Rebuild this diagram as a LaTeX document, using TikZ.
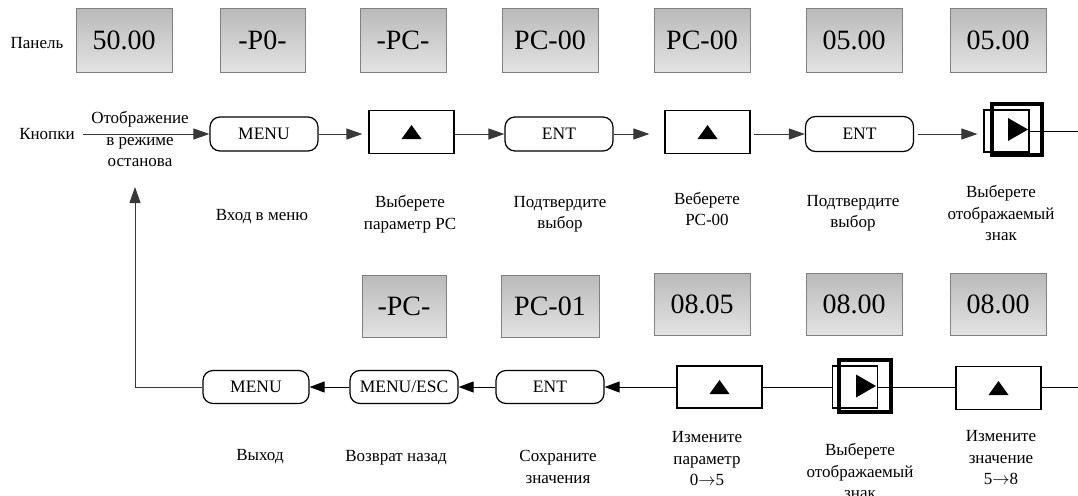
\documentclass[tikz,border=0pt]{standalone}
\usepackage{fontspec}
\setmainfont{Liberation Serif}
\usetikzlibrary{arrows.meta}
\tikzset{
  panel/.style={draw=black!50, line width=1pt, top color=black!27, bottom color=black!11,
    minimum width=96pt, minimum height=63pt, inner sep=0pt,
    font=\fontsize{28}{30}\selectfont},
  key/.style={draw, rounded corners=10pt, line width=1.2pt, minimum width=108pt,
    minimum height=34pt, inner sep=0pt, font=\fontsize{17.5}{20}\selectfont},
  upkey/.style={draw, line width=1.2pt, minimum width=85pt, minimum height=43pt, inner sep=0pt,
    path picture={\fill ([shift={(-10pt,-7pt)}]path picture bounding box.center)
      -- ([shift={(10pt,-7pt)}]path picture bounding box.center)
      -- ([shift={(0pt,7pt)}]path picture bounding box.center) -- cycle;}},
  shiftframe/.style={draw, line width=1.1pt, minimum width=45pt, minimum height=42pt, inner sep=0pt},
  shiftcursor/.style={draw, line width=3.6pt, minimum width=50pt, minimum height=51pt, inner sep=0pt,
    path picture={\fill ([shift={(-9pt,11.5pt)}]path picture bounding box.center)
      -- ([shift={(-9pt,-11.5pt)}]path picture bounding box.center)
      -- ([shift={(11pt,0pt)}]path picture bounding box.center) -- cycle;}},
  label/.style={align=center, inner sep=0pt, font=\fontsize{17}{21.5}\selectfont},
  fwd/.style={line width=1pt, draw=black!78, -{Triangle[length=16pt,width=11pt]}},
  back/.style={line width=1pt, -{Triangle[length=15pt,width=11pt]}},
  link/.style={line width=1pt},
}
\begin{document}
\begin{tikzpicture}[x=1pt, y=-1pt]
\useasboundingbox (0,0) rectangle (1078,495);

% display panels, upper row
\node[label] (panelcap) at (37,43) {Панель};
\node[panel] (d1) at (124,40.5) {50.00};
\node[panel, minimum width=85pt] (d2) at (262.5,40.5) {-P0-};
\node[panel, minimum width=86pt] (d3) at (403,40.5) {-PC-};
\node[panel] (d4) at (550,40.5) {PC-00};
\node[panel] (d5) at (702,40.5) {PC-00};
\node[panel] (d6) at (854,40.5) {05.00};
\node[panel] (d7) at (998,40.5) {05.00};

% key sequence, upper row
\node[label] (keycap) at (47,134) {Кнопки};
\node[label] (stop) at (140,139) {Отображение\\в режиме\\останова};
\node[key] (menu1) at (264,134) {MENU};
\node[upkey] (up1) at (411.5,132) {};
\node[key] (ent1) at (559,134) {ENT};
\node[upkey] (up2) at (707.5,132) {};
\node[key, minimum height=35pt] (ent2) at (859.5,134) {ENT};
\node[shiftframe] (sf1) at (1006.5,131) {};
\node[shiftcursor] (sc1) at (1017,129.5) {};
\coordinate (outR) at (1078,131);

\draw[fwd, shorten <=8pt] (keycap.east) -- (menu1.west);
\draw[fwd, shorten >=6pt] (menu1.east) -- (menu1.east -| up1.west);
\draw[fwd] (up1.east |- ent1.west) -- (ent1.west);
\draw[fwd, shorten >=15pt] (ent1.east) -- (ent1.east -| up2.west);
\draw[fwd, shorten <=3pt] (up2.east |- ent2.west) -- (ent2.west);
\draw[fwd, shorten <=4pt, shorten >=6pt] (ent2.east) -- (ent2.east -| sf1.west);
\draw[link] (sf1.east) -- (outR);

% captions, upper row
\node[label] at (262,217) {Вход в меню};
\node[label] at (410,214) {Выберете\\параметр PC};
\node[label] at (560,214) {Подтвердите\\выбор};
\node[label] at (707,209) {Веберете\\PC-00};
\node[label] at (853,213) {Подтвердите\\выбор};
\node[label] at (1001,213) {Выберете\\отображаемый\\знак};

% display panels, lower row
\node[panel, minimum width=84pt, minimum height=62pt] (e1) at (404,306) {-PC-};
\node[panel, minimum width=98pt, minimum height=62pt] (e2) at (550,306) {PC-01};
\node[panel, minimum height=62pt] (e3) at (702,304) {08.05};
\node[panel, minimum height=62pt] (e4) at (854,304) {08.00};
\node[panel, minimum height=62pt] (e5) at (998,304) {08.00};

% key sequence, lower row (runs right to left)
\coordinate (inR) at (1078,387);
\node[upkey] (up4) at (998.5,388) {};
\node[shiftframe] (sf2) at (855,387) {};
\node[shiftcursor, minimum width=52pt, minimum height=52pt] (sc2) at (865,386) {};
\node[upkey, minimum height=42pt] (up3) at (719.5,387) {};
\node[key, minimum height=33pt] (ent3) at (550,387) {ENT};
\node[key, minimum height=33pt] (esc) at (404,387) {MENU/ESC};
\node[key, minimum width=106pt, minimum height=33pt] (menu2) at (256,387) {MENU};
\coordinate (ret) at (135,187);

\draw[link] (inR) -- (inR -| up4.east);
\draw[link] (up4.west |- sf2.east) -- (sf2.east);
\draw[link] (sf2.west) -- (up3.east);
\draw[back] (up3.west) -- (ent3.east);
\draw[back] (ent3.west) -- (esc.east);
\draw[back] (esc.west) -- (menu2.east);
\draw[fwd] (menu2.west) -| (ret);

% captions, lower row
\node[label] at (260,457) {Выход};
\node[label] at (396,458) {Возврат назад};
\node[label] at (558,467) {Сохраните\\значения};
\node[label] at (707,459) {Измените\\параметр\\0$\to$5};
\node[label] at (860,471) {Выберете\\отображаемый\\знак};
\node[label] at (1001,458) {Измените\\значение\\5$\to$8};
\end{tikzpicture}
\end{document}
